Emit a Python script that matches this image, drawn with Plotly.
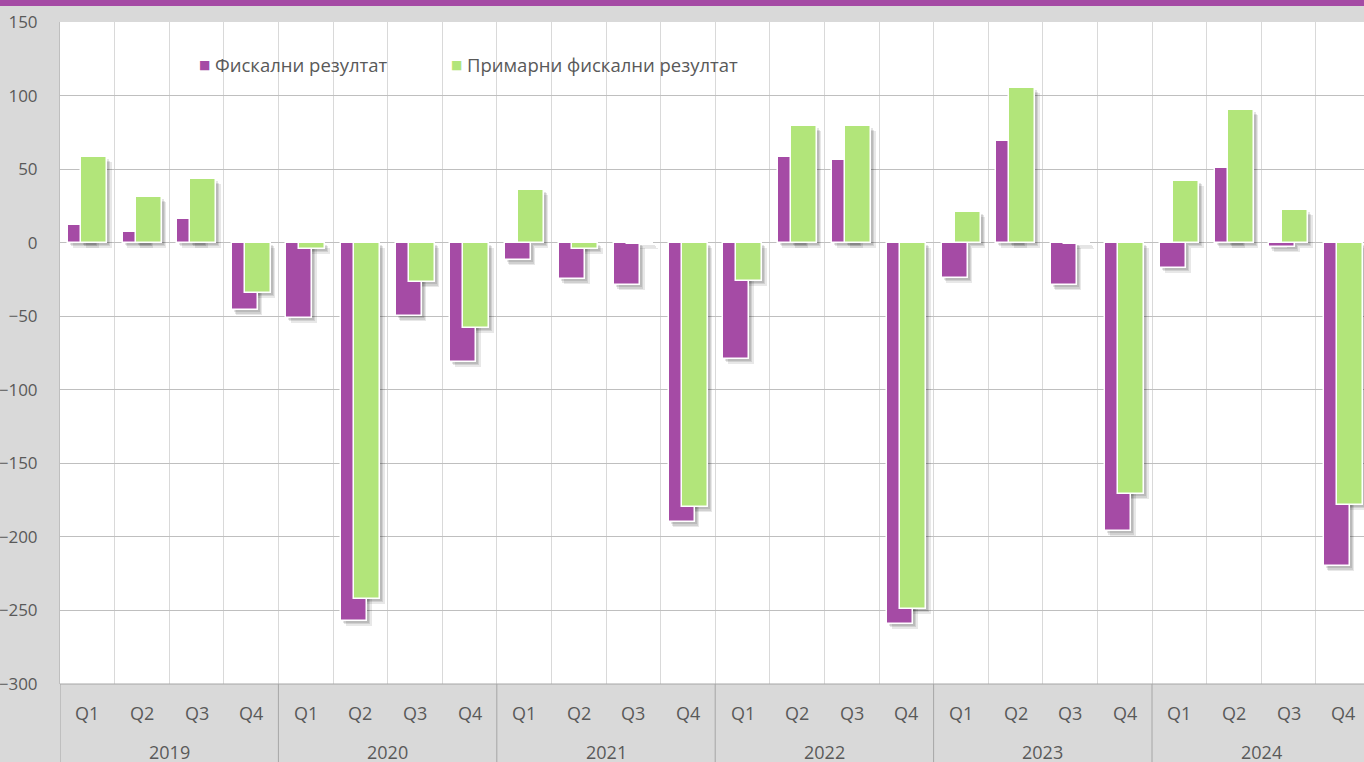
import plotly.graph_objects as go

years = ["2019", "2020", "2021", "2022", "2023", "2024"]
quarters = ["Q1", "Q2", "Q3", "Q4"]
fiscal = [12, 7, 16, -46,
          -51, -257, -50, -81,
          -12, -25, -29, -190,
          -79, 58, 56, -259,
          -24, 69, -29, -196,
          -17, 51, -3, -220]
primary = [58, 31, 43, -34,
           -4, -242, -27, -58,
           36, -4, -1, -180,
           -26, 79, 79, -249,
           21, 105, -1, -171,
           42, 90, 22, -178]
name_fiscal = "Фискални резултат"
name_primary = "Примарни фискални резултат"

PURPLE = "#a54ba5"
GREEN = "#b2e57a"
TEXT = "#595959"
FONT = "Open Sans"

W, H = 1364, 762
L, R, T, B = 60, 0, 22, 78
PW, PH = W - L - R, H - T - B
YMIN, YMAX = -300, 150
XMIN = -0.5
XMAX = XMIN + PW / 54.6
px_per_unit = PH / (YMAX - YMIN)
px_per_cat = PW / (XMAX - XMIN)

n = len(fiscal)
xs = list(range(n))

bw = 0.477
off_f = -0.353
off_p = -0.115

fig = go.Figure()

# soft shadows (layered)
shadow_layers = [(2, 2, 0.10), (3, 3.5, 0.10), (4.5, 5, 0.09)]
for vals, off in [(fiscal, off_f), (primary, off_p)]:
    for dx, dy, a in shadow_layers:
        du = dy / px_per_unit
        dc = dx / px_per_cat
        fig.add_trace(go.Bar(
            x=xs, y=vals, base=[-du] * n, width=bw, offset=off + dc,
            marker=dict(color=f"rgba(0,0,0,{a})", line=dict(width=0)),
            showlegend=False, hoverinfo="skip"))

fig.add_trace(go.Bar(x=xs, y=fiscal, name=name_fiscal, width=bw, offset=off_f,
                     marker=dict(color=PURPLE, line=dict(color="white", width=1.5)),
                     showlegend=False))
fig.add_trace(go.Bar(x=xs, y=primary, name=name_primary, width=bw, offset=off_p,
                     marker=dict(color=GREEN, line=dict(color="white", width=1.5)),
                     showlegend=False))


def pxx(px):
    return (px - L) / PW


def pxy(py):
    return (H - B - py) / PH


annotations = []
# quarter labels
for i in xs:
    annotations.append(dict(x=i, y=pxy(713), xref="x", yref="paper", text=quarters[i % 4],
                            showarrow=False, font=dict(family=FONT, size=18, color=TEXT),
                            xanchor="center", yanchor="middle"))
for k, yr in enumerate(years):
    annotations.append(dict(x=4 * k + 1.5, y=pxy(752), xref="x", yref="paper", text=yr,
                            showarrow=False, font=dict(family=FONT, size=18, color=TEXT),
                            xanchor="center", yanchor="middle"))

# legend
for sx, tx, col, label in [(204, 213, PURPLE, name_fiscal), (456, 465, GREEN, name_primary)]:
    annotations.append(dict(x=pxx(sx), y=pxy(65), xref="paper", yref="paper", text="■",
                            showarrow=False, font=dict(family="DejaVu Sans", size=12, color=col),
                            xanchor="center", yanchor="middle"))
    annotations.append(dict(x=pxx(tx), y=pxy(65), xref="paper", yref="paper", text=label,
                            showarrow=False, font=dict(family=FONT, size=18.5, color=TEXT),
                            xanchor="left", yanchor="middle"))

shapes = []
# top purple strip
shapes.append(dict(type="rect", xref="paper", yref="paper", x0=pxx(0), x1=pxx(W),
                   y0=pxy(0), y1=pxy(6), fillcolor=PURPLE, line=dict(width=0), layer="above"))
# year separators in axis area
for k in range(len(years) + 1):
    shapes.append(dict(type="line", xref="x", yref="paper", x0=4 * k - 0.5, x1=4 * k - 0.5,
                       y0=pxy(684), y1=pxy(H), line=dict(color="#a6a6a6", width=1)))
# bottom axis line
shapes.append(dict(type="line", xref="paper", yref="paper", x0=0, x1=1, y0=0, y1=0,
                   line=dict(color="#a6a6a6", width=1)))

fig.update_layout(
    width=W, height=H,
    margin=dict(l=L, r=R, t=T, b=B, pad=0),
    paper_bgcolor="#d9d9d9", plot_bgcolor="white",
    barmode="overlay", bargap=0,
    showlegend=False,
    font=dict(family=FONT, size=16, color=TEXT),
    annotations=annotations, shapes=shapes,
    xaxis=dict(range=[XMIN, XMAX], tickvals=[i - 0.5 for i in range(n + 1)],
               showticklabels=False, showgrid=True, gridcolor="#d9d9d9", gridwidth=1,
               zeroline=False, showline=False, ticks="", fixedrange=True),
    yaxis=dict(range=[YMIN, YMAX], tickvals=list(range(YMIN, YMAX + 1, 50)),
               showgrid=True, gridcolor="#bfbfbf", gridwidth=1,
               zeroline=True, zerolinecolor="#bfbfbf", zerolinewidth=1,
               showline=True, linecolor="#bfbfbf", linewidth=1,
               ticks="", ticklabelstandoff=18,
               tickfont=dict(family=FONT, size=17, color=TEXT), fixedrange=True),
)

fig.write_html("out.html", config={"displayModeBar": False},
               post_script="document.body.style.margin='0';document.body.style.overflow='hidden';")
